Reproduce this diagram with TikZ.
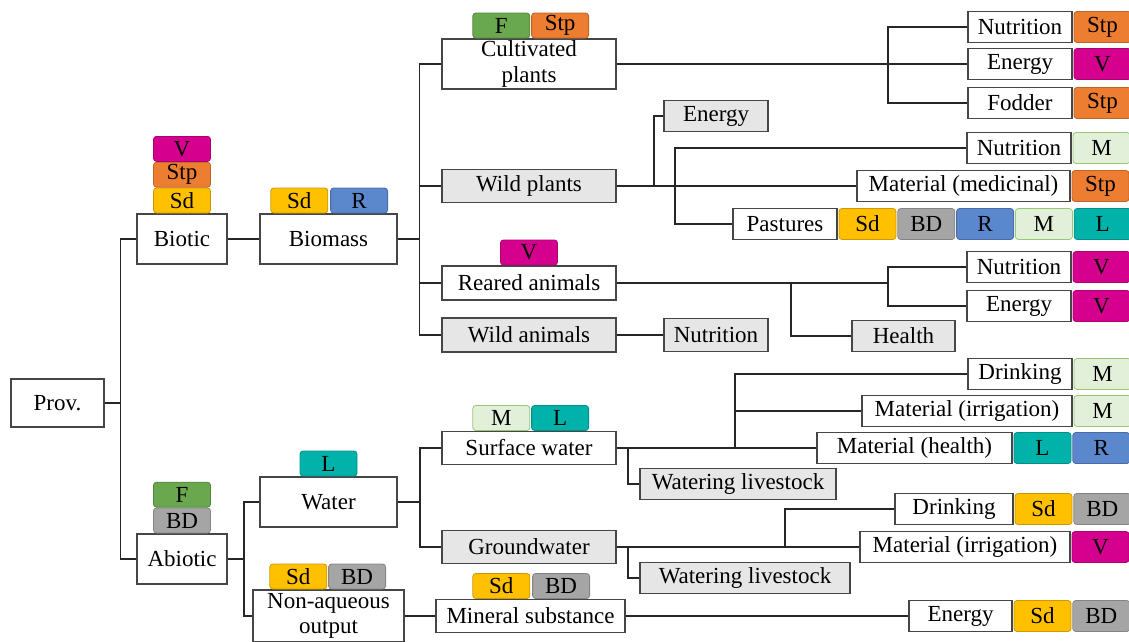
\documentclass[tikz,border=0pt]{standalone}
\usepackage{fontspec}
\setmainfont{Liberation Serif}
\usetikzlibrary{positioning}

\definecolor{vcol}{RGB}{214,0,143}
\definecolor{stpcol}{RGB}{237,125,49}
\definecolor{sdcol}{RGB}{255,192,0}
\definecolor{rcol}{RGB}{91,135,204}
\definecolor{fcol}{RGB}{106,168,79}
\definecolor{bdcol}{RGB}{165,165,165}
\definecolor{mcol}{RGB}{226,240,217}
\definecolor{mline}{RGB}{150,200,120}
\definecolor{lcol}{RGB}{0,178,170}
\definecolor{boxgray}{RGB}{230,230,230}
\definecolor{edge}{RGB}{70,70,70}

\begin{document}
\begin{tikzpicture}[x=1pt,y=-1pt,
  font=\fontsize{23}{26}\selectfont,
  itembox/.style={draw=edge,line width=1.2pt,fill=white,inner sep=0pt,align=center},
  graybox/.style={itembox,fill=boxgray},
  badge/.style={fill=#1,draw=#1!80!black,line width=0.8pt,rounded corners=3pt,
    inner sep=0pt,minimum width=57,minimum height=31},
  topbadge/.style={badge=#1,minimum height=25},
  conn/.style={draw=black!85,line width=1.3pt}]
  \clip (0,0) rectangle (1129,641);

  \node[itembox,minimum width=93,minimum height=48] (prov) at (57.5,403) {Prov.};

  \node[itembox,minimum width=90,minimum height=50] (biotic) at (182,239) {Biotic};
  \node[topbadge=sdcol,above=0pt of biotic] (bioticSd) {Sd};
  \node[topbadge=stpcol,above=0pt of bioticSd] (bioticStp) {Stp};
  \node[topbadge=vcol,above=0pt of bioticStp] (bioticV) {V};

  \node[itembox,minimum width=90,minimum height=50] (abiotic) at (182,559) {Abiotic};
  \node[topbadge=bdcol,above=0pt of abiotic] (abioticBD) {BD};
  \node[topbadge=fcol,above=0pt of abioticBD] (abioticF) {F};

  \node[itembox,minimum width=137,minimum height=50] (biomass) at (328.5,239) {Biomass};
  \node[topbadge=sdcol,anchor=south west] (biomassSd) at ([xshift=11pt]biomass.north west) {Sd};
  \node[topbadge=rcol,right=2pt of biomassSd] (biomassR) {R};

  \node[itembox,minimum width=137,minimum height=50] (water) at (328.5,502) {Water};
  \node[topbadge=lcol,above=0pt of water] (waterL) {L};

  \node[itembox,minimum width=151,minimum height=52] (nonaq) at (328.5,616) {Non-aqueous\\[-1pt]output};
  \node[topbadge=sdcol,anchor=south west] (nonaqSd) at ([xshift=17pt]nonaq.north west) {Sd};
  \node[topbadge=bdcol,right=1pt of nonaqSd] (nonaqBD) {BD};

  % biomass branch
  \node[itembox,minimum width=174,minimum height=50] (cultiv) at (529,64) {Cultivated\\plants};
  \node[topbadge=fcol,anchor=south west] (cultivF) at ([xshift=31pt]cultiv.north west) {F};
  \node[topbadge=stpcol,right=1pt of cultivF] (cultivStp) {Stp};
  \node[graybox,minimum width=174,minimum height=33] (wildpl) at (529,186) {Wild plants};
  \node[itembox,minimum width=174,minimum height=34] (reared) at (529,283) {Reared animals};
  \node[topbadge=vcol,above=0pt of reared] (rearedV) {V};
  \node[graybox,minimum width=174,minimum height=34] (wildan) at (529,335) {Wild animals};

  \node[itembox,minimum width=104,minimum height=31] (cpNutr) at (1020,27) {Nutrition};
  \node[badge=stpcol,right=1pt of cpNutr] (cpNutrStp) {Stp};
  \node[itembox,minimum width=104,minimum height=31] (cpEnergy) at (1020,64) {Energy};
  \node[badge=vcol,right=1pt of cpEnergy] (cpEnergyV) {V};
  \node[itembox,minimum width=104,minimum height=31] (cpFodder) at (1020,103) {Fodder};
  \node[badge=stpcol,right=1pt of cpFodder] (cpFodderStp) {Stp};

  \node[graybox,minimum width=104,minimum height=31] (wpEnergy) at (716,116) {Energy};
  \node[itembox,minimum width=104,minimum height=31] (wpNutr) at (1019,148) {Nutrition};
  \node[badge=mcol,draw=mline,right=1pt of wpNutr] (wpNutrM) {M};
  \node[itembox,minimum width=213,minimum height=31] (wpMed) at (963.5,186) {Material (medicinal)};
  \node[badge=stpcol,right=1pt of wpMed] (wpMedStp) {Stp};
  \node[itembox,minimum width=104,minimum height=31] (past) at (785,224) {Pastures};
  \node[badge=sdcol,right=1pt of past] (pastSd) {Sd};
  \node[badge=bdcol,right=1pt of pastSd] (pastBD) {BD};
  \node[badge=rcol,right=1pt of pastBD] (pastR) {R};
  \node[badge=mcol,draw=mline,right=1pt of pastR] (pastM) {M};
  \node[badge=lcol,right=1pt of pastM] (pastL) {L};

  \node[itembox,minimum width=104,minimum height=31] (raNutr) at (1019,267) {Nutrition};
  \node[badge=vcol,right=1pt of raNutr] (raNutrV) {V};
  \node[itembox,minimum width=104,minimum height=31] (raEnergy) at (1019,306) {Energy};
  \node[badge=vcol,right=1pt of raEnergy] (raEnergyV) {V};
  \node[graybox,minimum width=103,minimum height=31] (raHealth) at (903.5,336) {Health};
  \node[graybox,minimum width=104,minimum height=33] (waNutr) at (716,335) {Nutrition};

  % water branch
  \node[itembox,minimum width=174,minimum height=33] (surface) at (529,448) {Surface water};
  \node[topbadge=mcol,draw=mline,anchor=south west] (surfaceM) at ([xshift=31pt]surface.north west) {M};
  \node[topbadge=lcol,right=1pt of surfaceM] (surfaceL) {L};
  \node[graybox,minimum width=174,minimum height=33] (ground) at (529,547) {Groundwater};
  \node[itembox,minimum width=189,minimum height=33] (mineral) at (530.5,616) {Mineral substance};
  \node[topbadge=sdcol,anchor=south west] (mineralSd) at ([xshift=37pt]mineral.north west) {Sd};
  \node[topbadge=bdcol,right=2pt of mineralSd] (mineralBD) {BD};

  \node[itembox,minimum width=104,minimum height=31] (swDrink) at (1020,374) {Drinking};
  \node[badge=mcol,draw=mline,right=1pt of swDrink] (swDrinkM) {M};
  \node[itembox,minimum width=210,minimum height=31] (swIrr) at (967,411) {Material (irrigation)};
  \node[badge=mcol,draw=mline,right=1pt of swIrr] (swIrrM) {M};
  \node[itembox,minimum width=195,minimum height=31] (swHealth) at (914.5,448) {Material (health)};
  \node[badge=lcol,right=1pt of swHealth] (swHealthL) {L};
  \node[badge=rcol,right=1pt of swHealthL] (swHealthR) {R};
  \node[graybox,minimum width=196,minimum height=31] (swLive) at (738,484) {Watering livestock};

  \node[itembox,minimum width=118,minimum height=31] (gwDrink) at (954,509) {Drinking};
  \node[badge=sdcol,right=1pt of gwDrink] (gwDrinkSd) {Sd};
  \node[badge=bdcol,right=1pt of gwDrinkSd] (gwDrinkBD) {BD};
  \node[itembox,minimum width=210,minimum height=31] (gwIrr) at (965,547) {Material (irrigation)};
  \node[badge=vcol,right=1pt of gwIrr] (gwIrrV) {V};
  \node[graybox,minimum width=210,minimum height=31] (gwLive) at (745,578) {Watering livestock};

  \node[itembox,minimum width=103,minimum height=31] (mnEnergy) at (960.5,616) {Energy};
  \node[badge=sdcol,right=1pt of mnEnergy] (mnEnergySd) {Sd};
  \node[badge=bdcol,right=1pt of mnEnergySd] (mnEnergyBD) {BD};

  % forks
  \coordinate (provfork) at (120.5,403);
  \coordinate (biofork) at (419.5,239);
  \coordinate (abiofork) at (244,559);
  \coordinate (waterfork) at (420,502);
  \coordinate (cultfork) at (888,64);
  \coordinate (wpfork) at (654,186);
  \coordinate (pastfork) at (675,186);
  \coordinate (rafork) at (888,283);
  \coordinate (hlthfork) at (791,283);
  \coordinate (swfork) at (735,448);
  \coordinate (swlivefork) at (628,448);
  \coordinate (gwfork) at (785,547);
  \coordinate (gwlivefork) at (628,547);

  \draw[conn] (prov.east) -- (provfork);
  \draw[conn] (biotic.west) -| (provfork) |- (abiotic.west);
  \draw[conn] (biotic.east) -- (biomass.west);
  \draw[conn] (abiotic.east) -- (abiofork);
  \draw[conn] (water.west) -| (abiofork) |- (nonaq.west);

  \draw[conn] (biomass.east) -- (biofork);
  \draw[conn] (cultiv.west) -| (biofork) |- (wildan.west);
  \draw[conn] (wildpl.west) -- (wildpl.west -| biofork);
  \draw[conn] (reared.west) -- (reared.west -| biofork);
  \draw[conn] (water.east) -- (waterfork);
  \draw[conn] (surface.west) -| (waterfork) |- (ground.west);
  \draw[conn] (nonaq.east) -- (mineral.west);

  \draw[conn] (cultiv.east) -- (cpEnergy.west);
  \draw[conn] (cpNutr.west) -| (cultfork) |- (cpFodder.west);

  \draw[conn] (wildpl.east) -- (wpMed.west);
  \draw[conn] (wpfork) |- (wpEnergy.west);
  \draw[conn] (wpNutr.west) -| (pastfork) |- (past.west);

  \draw[conn] (reared.east) -- (rafork);
  \draw[conn] (raNutr.west) -| (rafork) |- (raEnergy.west);
  \draw[conn] (hlthfork) |- (raHealth.west);
  \draw[conn] (wildan.east) -- (waNutr.west);

  \draw[conn] (surface.east) -- (swHealth.west);
  \draw[conn] (swDrink.west) -| (swfork);
  \draw[conn] (swIrr.west) -- (swIrr.west -| swfork);
  \draw[conn] (swlivefork) |- (swLive.west);

  \draw[conn] (ground.east) -- (gwIrr.west);
  \draw[conn] (gwfork) |- (gwDrink.west);
  \draw[conn] (gwlivefork) |- (gwLive.west);

  \draw[conn] (mineral.east) -- (mnEnergy.west);
\end{tikzpicture}
\end{document}
